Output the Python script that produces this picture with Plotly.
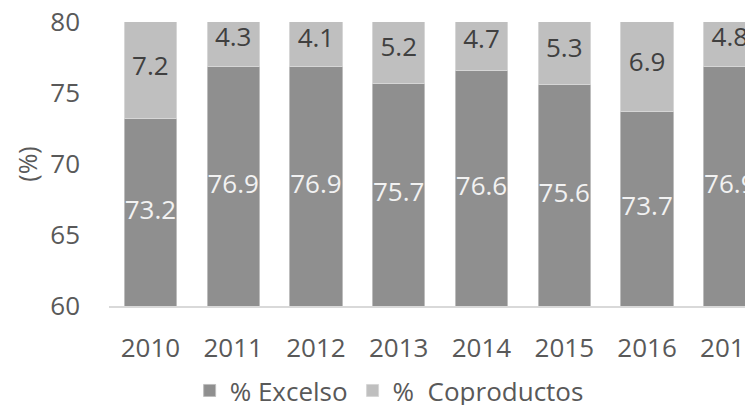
import plotly.graph_objects as go

years = ["2010", "2011", "2012", "2013", "2014", "2015", "2016", "2017"]
excelso = [73.2, 76.9, 76.9, 75.7, 76.6, 75.6, 73.7, 76.9]
coproductos = [7.2, 4.3, 4.1, 5.2, 4.7, 5.3, 6.9, 4.8]
y_ticks = [60, 65, 70, 75, 80]

Y_MIN, Y_MAX = 60, 80
FONT = "Open Sans"
C_EXC = "#8f8f8f"
C_COP = "#bfbfbf"

fig = go.Figure()
fig.add_trace(go.Bar(x=years, y=excelso, name="% Excelso", marker=dict(color=C_EXC, line=dict(color="#bdbdbd", width=1)), hoverinfo="skip"))
fig.add_trace(go.Bar(x=years, y=coproductos, name="% &nbsp;Coproductos", marker=dict(color=C_COP, line=dict(color="#d6d6d6", width=1)), hoverinfo="skip"))

# label positions derived from data (centre of the segment, limited to the visible area)
exc_pos = [(Y_MIN + e) / 2 for e in excelso]
cop_pos = []
for e, c in zip(excelso, coproductos):
    vis = (e + min(e + c, Y_MAX)) / 2
    full = e + c / 2
    cop_pos.append(min((vis + full) / 2, 78.8))

fig.add_trace(go.Scatter(x=years, y=exc_pos, mode="text", text=[f"{v:.1f}" for v in excelso],
                         textfont=dict(family=FONT, size=26, color="#f2f2f2"), showlegend=False, hoverinfo="skip", cliponaxis=False))
fig.add_trace(go.Scatter(x=years, y=cop_pos, mode="text", text=[f"{v:.1f}" for v in coproductos],
                         textfont=dict(family=FONT, size=26, color="#404040"), showlegend=False, hoverinfo="skip", cliponaxis=False))

# the page body has an 8px margin, so the figure is 8px smaller and offset
fig.update_layout(
    width=745, height=397,
    margin=dict(l=101, r=0, t=14, b=99, autoexpand=False),
    barmode="stack", bargap=0.37,
    plot_bgcolor="white", paper_bgcolor="white",
    font=dict(family=FONT, size=25, color="#595959"),
    showlegend=True,
    legend=dict(orientation="h", x=0.435, xanchor="center", y=-0.215, yanchor="top",
                font=dict(family=FONT, size=26, color="#595959"), traceorder="normal",
                itemwidth=30),
    xaxis=dict(type="category", range=[-0.5, 7.28], showline=True, linecolor="#d9d9d9", linewidth=2,
               ticks="", showgrid=False, tickfont=dict(size=26, color="#595959"), ticklabelstandoff=18,
               automargin=False, ticklabeloverflow="allow"),
    yaxis=dict(range=[Y_MIN, Y_MAX], tickvals=y_ticks, showgrid=False, zeroline=False, showline=False,
               ticks="", tickfont=dict(size=26, color="#595959"), ticklabelstandoff=28, automargin=False,
               ticklabeloverflow="allow",
               title=dict(text="(%)", standoff=5, font=dict(size=25, color="#595959"))),
)

fig.write_html("out.html")
